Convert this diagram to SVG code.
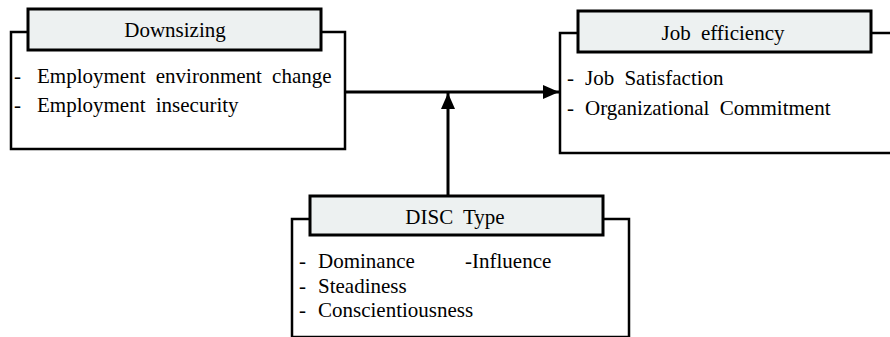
<svg xmlns="http://www.w3.org/2000/svg" width="890" height="337" viewBox="0 0 890 337">
<defs>
<style>
.outer{fill:#fff;stroke:#000;stroke-width:2.5}
.head{fill:#edf1f1;stroke:#000;stroke-width:3}
text{font-family:'Liberation Serif','DejaVu Serif',serif;font-size:21px;fill:#000;word-spacing:5px}
.c{text-anchor:middle}
.conn{stroke:#000;stroke-width:3;fill:none}
</style>
<marker id="ah" viewBox="0 0 16 14" refX="16" refY="7" markerWidth="16" markerHeight="14" markerUnits="userSpaceOnUse" orient="auto">
<path d="M0,0 L16,7 L0,14 Z" fill="#000"/>
</marker>
</defs>
<rect width="890" height="337" fill="#fff"/>
<g id="connectors">
<line class="conn" x1="346" y1="92" x2="559" y2="92" marker-end="url(#ah)"/>
<line class="conn" x1="448" y1="195" x2="448" y2="93" marker-end="url(#ah)"/>
</g>
<g id="downsizing">
<rect class="outer" x="11" y="32" width="334" height="117"/>
<rect class="head" x="28" y="9" width="293" height="41"/>
<text class="c" x="175" y="37">Downsizing</text>
<text x="14" y="83">- <tspan x="37">Employment environment change</tspan></text>
<text x="14" y="112">- <tspan x="37">Employment insecurity</tspan></text>
</g>
<g id="job-efficiency">
<rect class="outer" x="560" y="33" width="340" height="120"/>
<rect class="head" x="578" y="11" width="293" height="41"/>
<text class="c" x="723" y="40">Job efficiency</text>
<text x="567" y="85">- <tspan x="585">Job Satisfaction</tspan></text>
<text x="567" y="115">- <tspan x="585">Organizational Commitment</tspan></text>
</g>
<g id="disc-type">
<rect class="outer" x="292" y="219" width="337" height="118"/>
<rect class="head" x="310" y="196" width="293" height="39"/>
<text class="c" x="455" y="224">DISC Type</text>
<text x="299" y="268">- <tspan x="318">Dominance</tspan></text>
<text x="465" y="268">-Influence</text>
<text x="299" y="293">- <tspan x="318">Steadiness</tspan></text>
<text x="299" y="317">- <tspan x="318">Conscientiousness</tspan></text>
</g>
</svg>
